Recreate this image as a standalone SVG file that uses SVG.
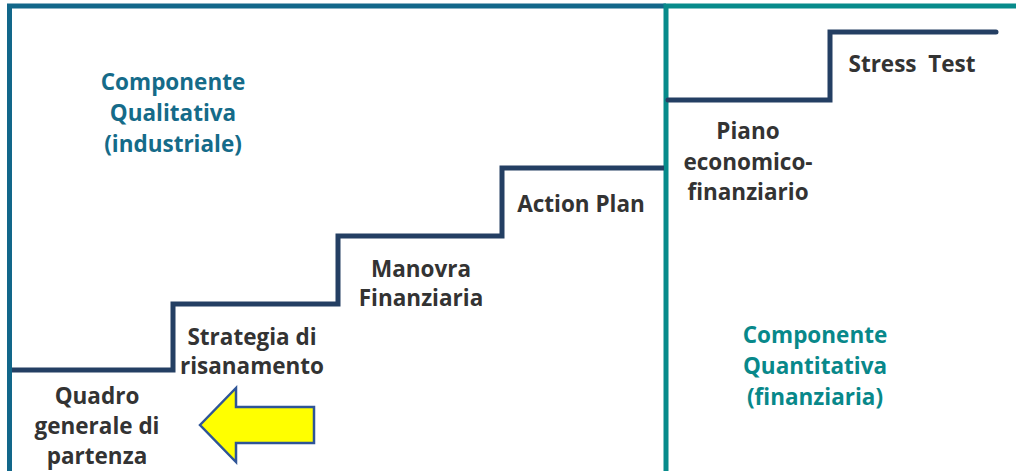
<svg xmlns="http://www.w3.org/2000/svg" width="1016" height="471" viewBox="0 0 1016 471">
<style>
.lbl{font-family:"Open Sans","Liberation Sans",sans-serif;font-weight:bold;font-size:22.5px;fill:#333333;text-anchor:middle}
.qual{fill:#156b89}
.quan{fill:#08888a}
.stair{fill:none;stroke:#243f63;stroke-width:5;stroke-linejoin:miter}
</style>
<rect width="1016" height="471" fill="#ffffff"/>
<g id="box-qualitativa">
<path d="M9.5,471 V6 H666" fill="none" stroke="#12678a" stroke-width="5"/>
</g>
<g id="box-quantitativa">
<path d="M666,471 V6 H1016" fill="none" stroke="#078b8b" stroke-width="5"/>
</g>
<g id="connectors">
<path class="stair" d="M12,370 H173 V304 H338 V236 H502 V168 H664"/>
<path class="stair" d="M668,100 H830 V32 H996" stroke-linecap="round"/>
</g>
<g id="arrow">
<polygon points="200,425 236,388 236,407 314,407 314,443 236,443 236,462" fill="#ffff00" stroke="#2f5597" stroke-width="2.5" stroke-linejoin="miter"/>
</g>
<g id="title-qualitativa">
<text class="lbl qual" x="173" y="90">Componente</text>
<text class="lbl qual" x="173" y="121">Qualitativa</text>
<text class="lbl qual" x="173" y="152">(industriale)</text>
</g>
<g id="title-quantitativa">
<text class="lbl quan" x="815" y="343">Componente</text>
<text class="lbl quan" x="815" y="374">Quantitativa</text>
<text class="lbl quan" x="815" y="405">(finanziaria)</text>
</g>
<g id="node-quadro">
<text class="lbl" x="97" y="404">Quadro</text>
<text class="lbl" x="97" y="434">generale di</text>
<text class="lbl" x="97" y="464">partenza</text>
</g>
<g id="node-strategia">
<text class="lbl" x="252" y="345">Strategia di</text>
<text class="lbl" x="252" y="374">risanamento</text>
</g>
<g id="node-manovra">
<text class="lbl" x="421" y="277">Manovra</text>
<text class="lbl" x="421" y="306">Finanziaria</text>
</g>
<g id="node-action">
<text class="lbl" x="581" y="212">Action Plan</text>
</g>
<g id="node-piano">
<text class="lbl" x="748" y="139">Piano</text>
<text class="lbl" x="748" y="170">economico-</text>
<text class="lbl" x="748" y="200">finanziario</text>
</g>
<g id="node-stress">
<text class="lbl" x="912" y="72" xml:space="preserve">Stress  Test</text>
</g>
</svg>
